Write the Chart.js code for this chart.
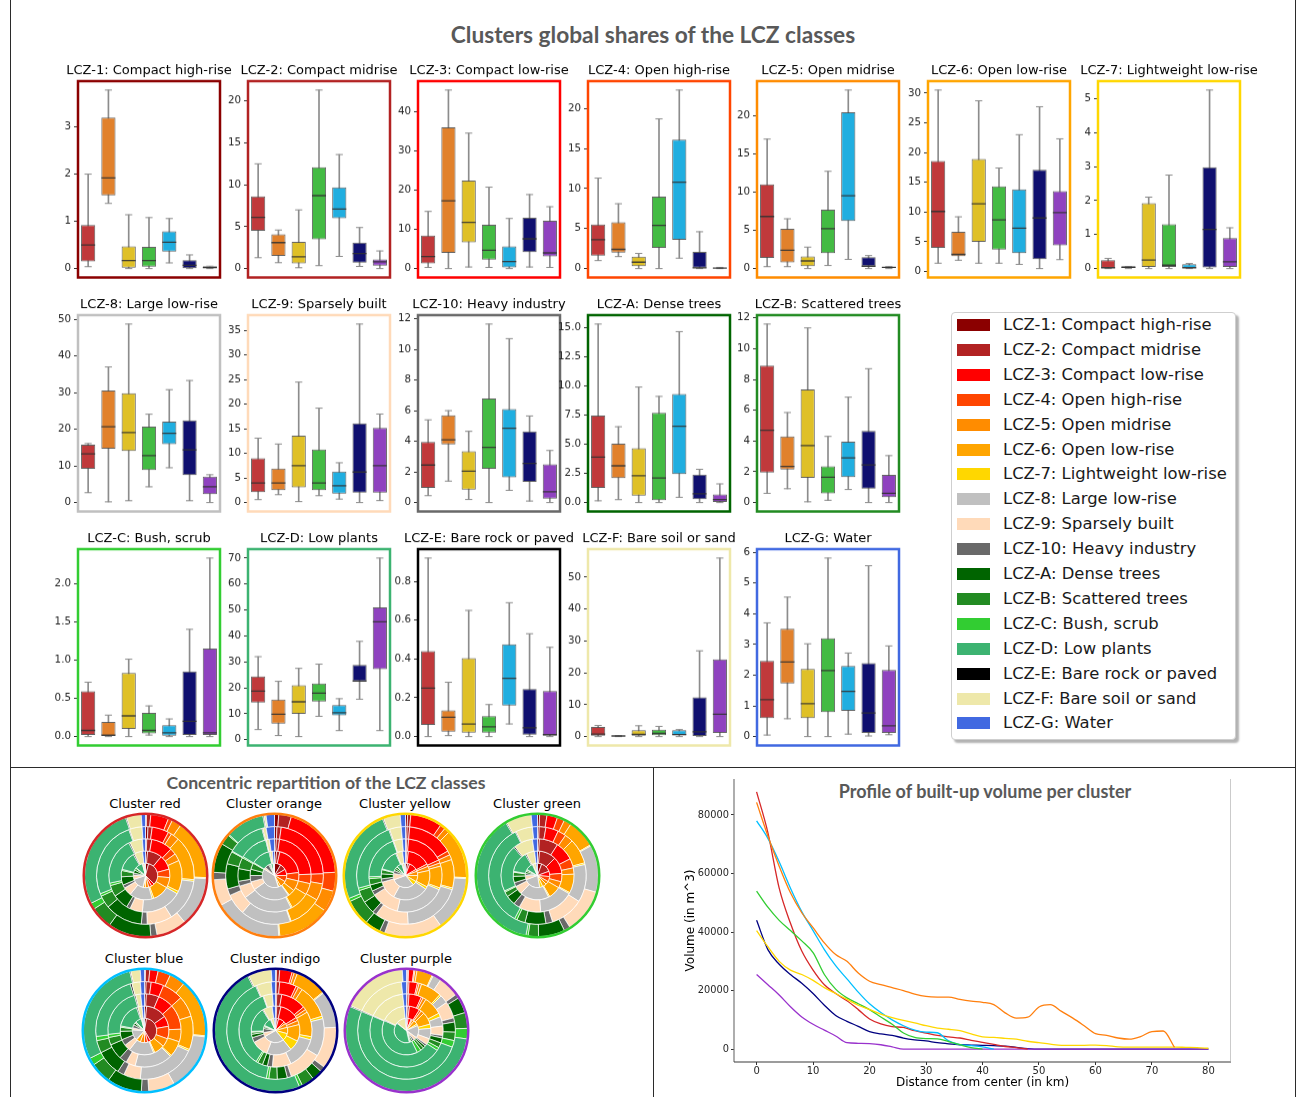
<!DOCTYPE html>
<html><head><meta charset="utf-8">
<script src="https://cdn.jsdelivr.net/npm/chart.js@4.4.1/dist/chart.umd.min.js"></script>
<style>
html,body{margin:0;padding:0;background:#fff;}
body{width:1300px;height:1097px;position:relative;overflow:hidden;font-family:'DejaVu Sans',sans-serif;}
.wrap{position:absolute;}
.sep{position:absolute;background:#2b2b2b;}
.ttl{position:absolute;font-family:Lato,'Open Sans',sans-serif;font-weight:700;color:#595959;white-space:nowrap;transform:translate(-50%,-50%);}
.sub{position:absolute;font-family:'DejaVu Sans',sans-serif;font-size:13px;color:#000;white-space:nowrap;transform:translate(-50%,-50%);}
#legend{position:absolute;left:951px;top:312px;width:285px;height:428px;border:1px solid #cfcfcf;border-radius:4px;box-shadow:3px 3px 2px rgba(0,0,0,0.3);background:#fff;box-sizing:border-box;}
.lg{position:absolute;left:0;height:20px;}
.lg .sw{position:absolute;left:5px;top:4px;width:33px;height:12px;}
.lg .tx{position:absolute;left:51px;top:0;font-family:'DejaVu Sans',sans-serif;font-size:16.4px;line-height:20px;color:#1a1a1a;white-space:nowrap;}
</style></head><body>

<div class="sep" style="left:10px;top:0;width:1px;height:1097px"></div>
<div class="sep" style="left:1295px;top:0;width:1px;height:1097px"></div>
<div class="sep" style="left:10px;top:767px;width:1286px;height:1px"></div>
<div class="sep" style="left:653px;top:767px;width:1px;height:330px"></div>

<div class="ttl" style="left:653px;top:34px;font-size:22.7px">Clusters global shares of the LCZ classes</div>
<div class="ttl" style="left:326px;top:782px;font-size:17.7px">Concentric repartition of the LCZ classes</div>
<div class="ttl" style="left:985px;top:791px;font-size:18px">Profile of built-up volume per cluster</div>

<div id="legend"></div>
<div id="charts"></div>

<script>
// ---------------- DATA ----------------
const clusterNames = ['red','orange','yellow','green','blue','indigo','purple'];
const clusterColors = ['#d62728','#ff7f0e','#ffd700','#32cd32','#00bfff','#000080','#9932cc'];
const clusterBoxColors = ['#c0393b','#e1812c','#dfc027','#43bb43','#20aee0','#10106f','#8f42bf'];

const lczNames = ['LCZ-1: Compact high-rise','LCZ-2: Compact midrise','LCZ-3: Compact low-rise','LCZ-4: Open high-rise','LCZ-5: Open midrise','LCZ-6: Open low-rise','LCZ-7: Lightweight low-rise','LCZ-8: Large low-rise','LCZ-9: Sparsely built','LCZ-10: Heavy industry','LCZ-A: Dense trees','LCZ-B: Scattered trees','LCZ-C: Bush, scrub','LCZ-D: Low plants','LCZ-E: Bare rock or paved','LCZ-F: Bare soil or sand','LCZ-G: Water'];
const lczColors = ['#8b0000','#b22222','#ff0000','#ff4500','#ff8c00','#ffa500','#ffd700','#c0c0c0','#ffdab9','#696969','#006400','#228b22','#32cd32','#3cb371','#000000','#eee8aa','#4169e1'];

// box statistics per cluster: [min, q1, median, q3, max] (share in %)
const stats1 = [[0.04,0.15,0.5,0.92,2.0],[1.38,1.55,1.92,3.2,3.78],[0,0.02,0.17,0.47,1.14],[0,0.04,0.17,0.46,1.08],[0.12,0.36,0.56,0.79,1.06],[0,0.01,0.07,0.18,0.29],[0,0,0.02,0.05,0.05]];
const stats2 = [[1.3,4.5,6.1,8.6,12.5],[0.7,1.5,3.1,4.1,4.6],[0.1,0.6,1.4,3.2,7.0],[0.35,3.5,8.7,12.1,21.3],[1.45,6.0,7.1,9.7,13.6],[0.25,0.7,1.8,3.1,4.9],[0,0.35,0.8,1.1,2.1]];
const stats3 = [[0.3,1.3,3.1,8.4,14.6],[0,4.0,17.3,36.1,45.6],[0.4,6.7,11.8,22.5,34.6],[0.3,2.3,4.7,11.2,20.8],[0,0.3,1.8,5.7,12.8],[0.4,4.2,7.6,13.0,18.9],[0.3,3.1,4.0,12.2,15.8]];
const stats4 = [[1.0,1.6,3.6,5.5,11.3],[1.5,2.0,2.4,5.8,8.1],[0,0.3,0.8,1.5,1.9],[0,2.6,5.4,9.0,18.7],[1.3,3.6,10.8,16.1,22.3],[0,0.1,0.1,2.1,4.6],[0,0,0.05,0.1,0.15]];
const stats5 = [[0.25,1.4,6.8,11.0,16.9],[0.25,0.8,2.4,5.2,6.5],[0,0.3,1.0,1.6,2.8],[0.4,2.0,5.2,7.7,12.7],[1.2,6.2,9.5,20.4,23.3],[0,0.3,0.3,1.5,1.7],[0,0,0.15,0.2,0.25]];
const stats6 = [[1.4,4.0,10.1,18.6,30.5],[1.9,2.6,2.9,6.7,9.2],[1.4,5.0,11.4,18.9,28.7],[1.4,3.7,8.7,14.3,17.4],[1.2,3.1,7.3,13.8,23.0],[0.5,2.1,9.0,17.1,27.7],[2.0,4.4,9.9,13.5,22.3]];
const stats7 = [[0,0,0.02,0.25,0.3],[0,0.02,0.04,0.06,0.06],[0,0.05,0.25,1.92,2.1],[0,0.05,0.1,1.3,2.75],[0,0,0.02,0.13,0.15],[0,0.03,1.15,2.98,5.25],[0,0.05,0.2,0.9,1.2]];
const stats8 = [[2.7,9.2,13.3,15.8,16.1],[0.2,14.7,20.7,30.6,37.0],[0.5,14.1,19.1,29.8,48.7],[4.3,8.9,12.8,20.7,24.1],[9.5,15.9,18.9,22.1,30.8],[0.5,7.5,14.4,22.4,33.3],[0,2.3,4.3,7.1,7.6]];
const stats9 = [[0.6,2.1,4.0,9.0,13.1],[1.6,2.5,4.0,6.9,11.9],[0.2,3.1,7.5,13.6,24.5],[1.4,2.5,4.0,10.8,19.2],[0.7,1.8,3.4,6.3,8.1],[0,2.0,6.2,16.1,36.3],[0.4,2.0,7.5,15.2,18.0]];
const stats10 = [[0.45,0.95,2.45,3.95,5.4],[1.4,3.8,4.1,5.7,6.0],[0.2,0.85,2.05,3.35,4.65],[0,2.2,3.6,6.8,11.65],[0.8,1.65,4.85,6.1,10.7],[0.1,1.35,2.55,4.65,5.65],[0,0.25,0.7,2.5,3.4]];
const statsA = [[0.15,1.25,3.9,7.45,15.3],[0.25,2.1,3.15,5.05,6.5],[0,0.6,2.3,4.65,9.9],[0,0.2,2.1,7.7,9.1],[0.45,2.45,6.55,9.3,14.65],[0,0.3,0.75,2.4,2.85],[0,0,0.25,0.7,1.6]];
const statsB = [[0.6,1.95,4.7,8.9,11.6],[0.9,2.15,2.35,4.3,5.85],[0.05,1.6,3.7,7.35,11.35],[0.15,0.6,1.65,2.35,4.3],[0.85,1.65,2.9,3.95,6.85],[0,0.9,2.45,4.65,8.7],[0,0.35,0.6,1.8,3.05]];
const statsC = [[0,0.02,0.08,0.59,0.71],[0,0,0.02,0.19,0.28],[0,0.1,0.27,0.83,1.01],[0.02,0.04,0.08,0.31,0.4],[0,0.01,0.05,0.15,0.23],[0,0.02,0.2,0.85,1.4],[0,0.02,0.05,1.15,2.33]];
const statsD = [[3.9,14.3,18.7,24.4,32.0],[1.6,6.2,9.8,15.5,22.5],[1.2,10.0,14.6,21.0,27.5],[9.0,14.7,17.9,21.7,29.1],[3.5,9.4,10.4,13.3,15.8],[15.6,22.5,22.6,28.8,37.9],[3.5,27.2,45.4,51.0,70.0]];
const statsE = [[0,0.06,0.25,0.44,0.92],[0.005,0.025,0.1,0.135,0.28],[0,0.02,0.065,0.405,0.65],[0,0.02,0.05,0.105,0.165],[0.065,0.16,0.3,0.475,0.69],[0,0.01,0.045,0.245,0.53],[0,0.005,0.01,0.235,0.46]];
const statsF = [[0,0.3,0.8,3.0,3.5],[0,0.1,0.2,0.3,0.3],[0,0.3,0.7,2.0,3.4],[0,0.4,1.0,2.2,3.2],[0,0.4,0.6,2.0,2.2],[0,0,1.5,12.3,26.9],[0,1.1,7.0,24.2,56.0]];
const statsG = [[0.05,0.6,1.2,2.46,3.7],[0.58,1.73,2.43,3.51,4.54],[0,0.6,1.07,2.2,3.02],[0,0.8,2.15,3.2,5.81],[0.08,0.84,1.47,2.3,2.72],[0.02,0.12,0.77,2.39,5.56],[0.06,0.12,0.35,2.17,2.95]];

const ticks1 = ['0','1','2','3'];
const ticks2 = ['0','5','10','15','20'];
const ticks3 = ['0','10','20','30','40'];
const ticks4 = ['0','5','10','15','20'];
const ticks5 = ['0','5','10','15','20'];
const ticks6 = ['0','5','10','15','20','25','30'];
const ticks7 = ['0','1','2','3','4','5'];
const ticks8 = ['0','10','20','30','40','50'];
const ticks9 = ['0','5','10','15','20','25','30','35'];
const ticks10 = ['0','2','4','6','8','10','12'];
const ticksA = ['0.0','2.5','5.0','7.5','10.0','12.5','15.0'];
const ticksB = ['0','2','4','6','8','10','12'];
const ticksC = ['0.0','0.5','1.0','1.5','2.0'];
const ticksD = ['0','10','20','30','40','50','60','70'];
const ticksE = ['0.0','0.2','0.4','0.6','0.8'];
const ticksF = ['0','10','20','30','40','50'];
const ticksG = ['0','1','2','3','4','5','6'];

// concentric shares (degrees), rings listed from the centre outwards, classes LCZ-1 ... LCZ-G
const ringsRed = [
 [15,120,15,15,15,10,2,60,20,10,15,10,3,35,2,10,3],
 [5,35,35,20,25,40,4,55,20,8,20,15,3,45,3,20,7],
 [2,8,34,10,12,50,4,65,20,6,25,18,4,75,2,20,5],
 [3,5,20,4,10,53,2,51,30,7,45,15,3,92,1,15,4],
 [1,4,17,4,9,57,1,47,29,6,41,21,6,98,1,14,4]];
const ringsOrange = [
 [30,30,30,30,30,10,2,140,10,20,5,5,1,10,2,3,2],
 [5,8,70,20,25,15,2,90,20,15,15,15,2,45,2,6,5],
 [3,5,80,15,18,30,2,80,20,8,20,18,2,45,1,5,8],
 [3,5,80,12,20,40,1,60,25,8,30,15,1,45,1,4,10],
 [4,12,71,18,20,50,1,65,25,7,28,10,1,37,1,2,8]];
const ringsYellow = [
 [10,10,40,10,20,30,20,110,30,15,10,10,2,25,3,10,5],
 [3,4,55,6,10,40,6,85,45,8,12,10,2,50,2,15,7],
 [2,3,60,5,5,35,3,80,45,7,10,10,3,72,1,14,5],
 [2,3,55,5,6,34,2,70,40,5,15,15,3,85,1,14,5],
 [2,3,30,5,5,47,1,52,55,5,15,25,3,90,1,16,5]];
const ringsGreen = [
 [20,50,25,25,15,20,15,80,20,10,10,8,2,35,3,15,7],
 [5,40,40,20,15,30,3,70,20,10,15,10,2,50,3,20,7],
 [3,30,30,15,10,30,2,55,35,10,15,8,2,75,2,30,8],
 [2,8,15,10,10,30,2,45,40,8,25,10,3,125,1,20,6],
 [2,7,10,7,7,27,1,45,42,6,25,10,2,138,1,24,6]];
const ringsBlue = [
 [10,140,15,15,20,20,3,50,10,15,10,5,2,30,2,8,5],
 [5,50,25,30,20,25,3,60,15,15,20,10,3,60,3,10,6],
 [3,20,25,40,20,25,2,60,15,12,25,12,5,80,2,8,6],
 [2,6,15,25,25,40,2,70,20,8,30,15,5,80,2,10,5],
 [1,4,8,12,15,55,1,55,25,7,33,20,7,103,1,9,4]];
const ringsIndigo = [
 [5,10,30,10,20,30,35,100,20,20,8,5,2,40,3,15,7],
 [3,10,45,8,10,40,25,60,40,12,8,5,2,60,2,22,8],
 [2,8,40,5,5,40,5,50,30,8,8,8,3,128,1,14,5],
 [1,4,20,3,5,40,3,45,40,5,12,10,3,145,1,18,5],
 [1,3,12,2,3,30,1,35,40,5,10,12,3,176,1,22,4]];
const ringsPurple = [
 [3,5,15,5,10,20,8,60,15,10,8,5,3,140,3,45,5],
 [2,5,25,5,8,30,10,25,15,5,6,8,10,140,2,58,6],
 [1,3,20,3,5,30,6,15,15,4,8,8,5,170,1,60,6],
 [1,2,10,2,3,25,2,10,20,5,12,10,8,183,1,60,6],
 [1,1,5,1,2,15,1,8,20,4,15,15,10,195,1,62,4]];

// built-up volume profile (m^3) every 2 km
const distanceKm = [0,2,4,6,8,10,12,14,16,18,20,22,24,26,28,30,32,34,36,38,40,42,44,46,48,50,52,54,56,58,60,62,64,66,68,70,72,74,76,78,80];
const volRed    = [87900,74000,55000,43000,33500,27000,22000,19000,16500,13500,10300,8600,7700,7400,6300,5500,4700,4200,3800,3000,2300,1600,900,500,0];
const volOrange = [84300,72800,62500,53400,46600,41500,36300,32300,30000,26000,23200,22000,21000,20000,18800,18000,17800,17800,17000,16400,16000,15200,12400,10600,10900,14400,15200,12900,10600,8000,5300,4700,3800,3400,4300,6000,6200,600];
const volYellow = [40500,35000,30000,27000,25500,23500,21000,19000,17000,15000,13500,12000,10800,9800,9000,8000,7200,6800,6300,5200,4200,4000,3700,3400,2700,2200,1700,1300,1300,1300,1400,1200,800,700,700,700,700,700,600,500,300];
const volGreen  = [54000,48500,44000,40500,37000,33000,25500,20500,17500,15500,13500,11000,8500,5500,4000,3600,3500,2600,1500,500,0];
const volBlue   = [78000,72000,64000,55000,47000,40500,34000,28500,24000,19500,15500,12500,10000,8000,6500,5800,5600,2800,1500,1200,800,0];
const volIndigo = [44000,34000,29000,25500,22500,19000,15000,11500,9500,7800,6000,5200,4700,3800,3200,2800,2200,1800,1500,1400,1300,1200,1000,600,200,0,0,0,0,0,0,0,0,0,0,0,0,0,0,0,0];
const volPurple = [25500,22000,18500,14500,11000,8500,6500,4500,2200,2000,1900,1500,800,0,0,0,0,0,0,0,0,0,0,0,0,0,0,0,0,0,0,0,0,0,0,0,0,0,0,0,0];
const xTicks = ['0','10','20','30','40','50','60','70','80'];
const yTicks = ['0','20000','40000','60000','80000'];

// ---------------- RENDER ----------------
Chart.defaults.font.family = "'DejaVu Sans', sans-serif";
const host = document.getElementById('charts');
function makeBox(left, top, w, h) {
  const d = document.createElement('div');
  d.className = 'wrap';
  d.style.left = left + 'px'; d.style.top = top + 'px';
  d.style.width = w + 'px'; d.style.height = h + 'px';
  const c = document.createElement('canvas');
  d.appendChild(c); host.appendChild(d);
  return c;
}

// legend
const lg = document.getElementById('legend');
lczNames.forEach((n, i) => {
  const r = document.createElement('div');
  r.className = 'lg';
  r.style.top = (324 - 312 - 10 + i * 24.9) + 'px';
  r.innerHTML = '<div class="sw" style="background:' + lczColors[i] + '"></div><div class="tx"></div>';
  r.querySelector('.tx').textContent = n;
  lg.appendChild(r);
});

// box plot panels
const framePlugin = {
  id: 'frame',
  afterDraw(chart, args, opts) {
    const {ctx, chartArea: a} = chart;
    ctx.save();
    ctx.strokeStyle = opts.color; ctx.lineWidth = 2.5;
    ctx.strokeRect(a.left, a.top, a.right - a.left, a.bottom - a.top);
    ctx.fillStyle = '#000'; ctx.font = "13px 'DejaVu Sans'";
    ctx.textAlign = 'center'; ctx.textBaseline = 'middle';
    ctx.fillText(opts.title, (a.left + a.right) / 2, a.top - 10);
    ctx.restore();
  }
};
const panelStats = [stats1,stats2,stats3,stats4,stats5,stats6,stats7,stats8,stats9,stats10,statsA,statsB,statsC,statsD,statsE,statsF,statsG];
const panelTicks = [ticks1,ticks2,ticks3,ticks4,ticks5,ticks6,ticks7,ticks8,ticks9,ticks10,ticksA,ticksB,ticksC,ticksD,ticksE,ticksF,ticksG];
const colX = [78,248,418,588,757,928,1098];
const rowY = [81,315,549];
const frameW = 142, frameH = 195.5, axisW = 42, topPad = 22, rightPad = 22, bottomPad = 3;
const whiskerColor = '#8c8c8c';

panelStats.forEach((stats, p) => {
  const row = p < 7 ? 0 : (p < 12 ? 1 : 2);
  const col = p < 7 ? p : (p < 12 ? p - 7 : p - 12);
  const fx = colX[col], fy = rowY[row];
  const cv = makeBox(fx - axisW, fy - topPad, frameW + axisW + rightPad, frameH + topPad + bottomPad);
  let lo = Infinity, hi = -Infinity;
  stats.forEach(s => { lo = Math.min(lo, s[0]); hi = Math.max(hi, s[4]); });
  const m = (hi - lo) * 0.05;
  const tl = panelTicks[p];
  new Chart(cv, {
    type: 'bar',
    data: {
      labels: clusterNames,
      datasets: [
        {type:'bar', data: stats.map(s => [s[0], s[4]]), backgroundColor: whiskerColor, barThickness: 1, grouped: false, order: 3},
        {type:'bar', data: stats.map(s => [s[1], s[3]]), backgroundColor: clusterBoxColors, borderColor: 'rgba(70,70,70,0.85)', borderWidth: 1, borderSkipped: false, barPercentage: 0.7, categoryPercentage: 1, grouped: false, order: 2},
        {type:'line', data: stats.map(s => s[0]), showLine: false, pointStyle: 'line', pointRadius: 3.6, pointBorderColor: whiskerColor, pointBackgroundColor: whiskerColor, pointBorderWidth: 1, borderColor: whiskerColor, order: 1},
        {type:'line', data: stats.map(s => s[4]), showLine: false, pointStyle: 'line', pointRadius: 3.6, pointBorderColor: whiskerColor, pointBackgroundColor: whiskerColor, pointBorderWidth: 1, borderColor: whiskerColor, order: 1},
        {type:'line', data: stats.map(s => s[2]), showLine: false, pointStyle: 'line', pointRadius: 7, pointBorderColor: 'rgba(50,50,50,0.9)', pointBackgroundColor: 'rgba(50,50,50,0.9)', pointBorderWidth: 1.3, borderColor: '#333', order: 0}
      ]
    },
    options: {
      responsive: true, maintainAspectRatio: false, animation: false, events: [],
      layout: {autoPadding: false, padding: {left: 0, top: topPad, right: rightPad, bottom: bottomPad}},
      plugins: {legend: {display: false}, tooltip: {enabled: false}, frame: {color: lczColors[p], title: lczNames[p]}},
      scales: {
        x: {display: false},
        y: {
          min: lo - m, max: hi + m,
          grid: {display: true, drawOnChartArea: false, drawTicks: true, tickLength: 4, tickColor: '#333'},
          border: {display: false},
          ticks: {font: {size: 10.3}, color: '#262626', padding: 3, autoSkip: false, callback: (v, i) => tl[i]},
          afterBuildTicks: s => { s.ticks = tl.map(t => ({value: parseFloat(t)})); },
          afterFit: s => { s.width = axisW; s.paddingTop = 0; s.paddingBottom = 0; }
        }
      }
    },
    plugins: [framePlugin]
  });
});

// concentric pies
const ringPlugin = {
  id: 'ring',
  afterDraw(chart, args, opts) {
    const arc = chart.getDatasetMeta(0).data[0];
    if (!arc) return;
    const ctx = chart.ctx;
    ctx.save();
    ctx.strokeStyle = opts.color; ctx.lineWidth = 2.5;
    ctx.beginPath(); ctx.arc(arc.x, arc.y, arc.outerRadius + 0.6, 0, Math.PI * 2); ctx.stroke();
    ctx.restore();
  }
};
const pieRings = [ringsRed, ringsOrange, ringsYellow, ringsGreen, ringsBlue, ringsIndigo, ringsPurple];
const pieCx = [145, 274, 405, 537, 144, 275, 406];
const pieCy = [875, 875, 875, 875, 1030, 1030, 1030];
const pieTitleY = [803, 803, 803, 803, 958, 958, 958];
pieRings.forEach((rings, k) => {
  const t = document.createElement('div');
  t.className = 'sub';
  t.style.left = pieCx[k] + 'px'; t.style.top = pieTitleY[k] + 'px';
  t.textContent = 'Cluster ' + clusterNames[k];
  document.body.appendChild(t);
  const size = 127;
  const cv = makeBox(pieCx[k] - size / 2, pieCy[k] - size / 2, size, size);
  new Chart(cv, {
    type: 'doughnut',
    data: {
      labels: lczNames,
      datasets: rings.slice().reverse().map(r => ({data: r, backgroundColor: lczColors, borderColor: '#ffffff', borderWidth: 0.7}))
    },
    options: {
      responsive: true, maintainAspectRatio: false, animation: false, events: [],
      cutout: 0, layout: {autoPadding: false, padding: 2},
      plugins: {legend: {display: false}, tooltip: {enabled: false}, ring: {color: clusterColors[k]}}
    },
    plugins: [ringPlugin]
  });
});

// line chart
const spinePlugin = {
  id: 'spines',
  afterDraw(chart) {
    const {ctx, chartArea: a} = chart;
    ctx.save(); ctx.lineWidth = 1.2;
    ctx.strokeStyle = '#777'; ctx.beginPath(); ctx.moveTo(a.left, a.top); ctx.lineTo(a.left, a.bottom); ctx.stroke();
    ctx.strokeStyle = '#3a3a3a'; ctx.beginPath(); ctx.moveTo(a.left, a.bottom); ctx.lineTo(a.right, a.bottom); ctx.stroke();
    ctx.strokeStyle = '#a8a8a8'; ctx.beginPath(); ctx.moveTo(a.right, a.top); ctx.lineTo(a.right, a.bottom); ctx.stroke();
    ctx.restore();
  }
};
const volSeries = [volOrange, volYellow, volGreen, volBlue, volRed, volPurple, volIndigo];
const volColors = [clusterColors[1], clusterColors[2], clusterColors[3], clusterColors[4], clusterColors[0], clusterColors[6], clusterColors[5]];
let vmax = -Infinity, vmin = Infinity;
volSeries.forEach(s => s.forEach(v => { vmax = Math.max(vmax, v); vmin = Math.min(vmin, v); }));
const vm = (vmax - vmin) * 0.05;
const xm = (distanceKm[distanceKm.length - 1] - distanceKm[0]) * 0.05;
const lcv = makeBox(680, 779, 551, 317);
new Chart(lcv, {
  type: 'line',
  data: {
    datasets: volSeries.map((s, i) => ({
      data: s.map((v, j) => ({x: distanceKm[j], y: v})),
      borderColor: volColors[i], borderWidth: 1.3, pointRadius: 0, fill: false,
      cubicInterpolationMode: 'monotone'
    }))
  },
  options: {
    responsive: true, maintainAspectRatio: false, animation: false, events: [],
    layout: {autoPadding: false, padding: {left: 0, top: 0, right: 0, bottom: 0}},
    plugins: {legend: {display: false}, tooltip: {enabled: false}},
    scales: {
      x: {
        type: 'linear', min: distanceKm[0] - xm, max: distanceKm[distanceKm.length - 1] + xm,
        grid: {drawOnChartArea: false, drawTicks: true, tickLength: 3, tickColor: '#333'},
        border: {display: false},
        ticks: {font: {size: 10}, color: '#262626', padding: 0, autoSkip: false, maxRotation: 0, callback: (v, i) => xTicks[i]},
        afterBuildTicks: s => { s.ticks = xTicks.map(t => ({value: parseFloat(t)})); },
        title: {display: true, text: 'Distance from center (in km)', font: {size: 12}, color: '#000', padding: {top: 0, bottom: 6}},
        afterFit: s => { s.height = 34; s.paddingLeft = 0; s.paddingRight = 0; }
      },
      y: {
        min: vmin - vm, max: vmax + vm,
        grid: {drawOnChartArea: false, drawTicks: true, tickLength: 3, tickColor: '#333'},
        border: {display: false},
        ticks: {font: {size: 9.8}, color: '#262626', padding: 2, autoSkip: false, callback: (v, i) => yTicks[i]},
        afterBuildTicks: s => { s.ticks = yTicks.map(t => ({value: parseFloat(t)})); },
        title: {display: true, text: 'Volume (in m^3)', font: {size: 12}, color: '#000', padding: {top: 4, bottom: 0}},
        afterFit: s => { s.width = 54; s.paddingTop = 0; s.paddingBottom = 0; }
      }
    }
  },
  plugins: [spinePlugin]
});
</script>
</body></html>
